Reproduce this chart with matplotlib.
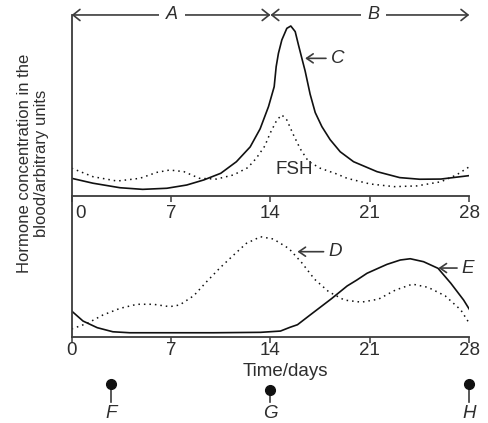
import matplotlib.pyplot as plt

# skrift som ligner på Arial/Helvetica
plt.rcParams['font.family'] = ['Liberation Sans', 'DejaVu Sans']

# dager på x-aksen
dag_ticks = [0, 7, 14, 21, 28]

# C (LH), øverste panel
dager_c = [0, 1.5, 3.4, 5, 6.7, 8.1, 9.3, 10.5, 11.6, 12.57,
           13.27, 13.86, 14.26, 14.4, 14.56, 14.8, 15.15, 15.43, 15.74, 15.97,
           16.21, 16.44, 16.79, 17.15, 17.62, 18.2, 18.91, 19.85, 21.5,
           23.1, 24.5, 26, 28]
verdi_c = [0.96, 0.69, 0.44, 0.35, 0.41, 0.59, 0.87, 1.24, 1.88, 2.7,
           3.7, 4.93, 6.03, 7.14, 7.88, 8.62, 9.26, 9.39, 9.08, 8.34,
           7.60, 6.9, 5.62, 4.6, 3.82, 3.1, 2.43, 1.88, 1.33,
           1.00, 0.91, 0.92, 1.11]

# FSH, øverste panel
dager_fsh = [0, 1.5, 3.2, 4.8, 6, 6.9, 7.9, 9, 10.2, 11.4,
             12.4, 13, 13.6, 13.97, 14.45, 14.8, 15.15, 15.62, 16.09, 16.67,
             17.5, 18.67, 19.4, 21, 22.7, 24.3, 26, 27.1, 28]
verdi_fsh = [1.52, 1.05, 0.81, 0.96, 1.29, 1.42, 1.33, 0.96, 0.92, 1.15,
             1.55, 2.07, 2.75, 3.45, 4.19, 4.47, 4.19, 3.36, 2.6, 1.9,
             1.52, 1.2, 0.96, 0.65, 0.5, 0.54, 0.77, 1.15, 1.6]

# D (stiplet), nederste panel
dager_d = [0, 1.1, 2.2, 3.4, 4.6, 5.75, 6.9, 7.6, 8.6, 9.5,
           10.45, 11.4, 12.3, 13.3, 14.2, 15.3, 16.2, 17.1, 18.1, 19.2,
           20.4, 21.6, 22.8, 24, 25.1, 26.3, 27.4, 28]
verdi_d = [0.55, 0.95, 1.54, 2.01, 2.30, 2.30, 2.13, 2.25, 2.91, 3.90,
           4.89, 5.79, 6.62, 7.09, 6.93, 6.25, 5.25, 4.08, 3.19, 2.6,
           2.45, 2.66, 3.31, 3.73, 3.5, 2.9, 1.9, 0.95]

# E (heltrukket), nederste panel
dager_e = [0, 0.8, 1.8, 2.9, 4.1, 7, 10, 13.3, 14.7, 15.38,
           15.9, 16.79, 18.3, 19.4, 20.08, 20.8, 21.73, 22.2, 23.14, 23.84,
           24.78, 25.8, 26.7, 27.6, 28]
verdi_e = [1.82, 1.11, 0.64, 0.35, 0.28, 0.28, 0.28, 0.31, 0.40, 0.67,
           0.85, 1.54, 2.7, 3.6, 4.02, 4.5, 4.92, 5.13, 5.44, 5.53,
           5.32, 4.85, 3.79, 2.6, 1.95]

# punktene F, G, H under aksen
merke_dager = [2.8, 14, 28]
merke_navn = ['F', 'G', 'H']

# farger
strek = '#3c3c3c'
kurve = '#111111'
tekst = '#2e2e2e'
prikket = (0, (1, 2.6))

fig = plt.figure(figsize=(4.89, 4.23), dpi=100)
ax1 = fig.add_axes([0.1466, 0.5374, 0.8131, 0.4272])
ax2 = fig.add_axes([0.1466, 0.2040, 0.8131, 0.3333])
ax3 = fig.add_axes([0.1466, 0.0, 0.8131, 0.1135])

# felles utseende for de to panelene
for ax in [ax1, ax2]:
    ax.patch.set_alpha(0)
    ax.set_xlim(0, 28)
    ax.set_ylim(0, 10)
    ax.spines['top'].set_visible(False)
    ax.spines['right'].set_visible(False)
    ax.spines['left'].set_color(strek)
    ax.spines['bottom'].set_color(strek)
    ax.spines['left'].set_linewidth(1.3)
    ax.spines['bottom'].set_linewidth(1.3)
    ax.set_yticks([])
    ax.set_xticks(dag_ticks)
    ax.tick_params(axis='x', direction='out', length=4.5, width=1.1,
                   color=strek, labelsize=13.5, labelcolor=tekst)

# øverste panel: 0 står litt til høyre
ax1.set_xticklabels([''] + [str(d) for d in dag_ticks[1:]])
ax1.tick_params(axis='x', pad=2.2)
ax1.annotate('0', xy=(0, 0), xytext=(6.7, -6.7), textcoords='offset points',
             ha='center', va='top', fontsize=13.5, color=tekst)
ax2.tick_params(axis='x', pad=-0.9)

# kurvene
ax1.plot(dager_c, verdi_c, color=kurve, lw=1.2)
ax1.plot(dager_fsh, verdi_fsh, color=kurve, lw=1.1, linestyle=prikket)
ax2.plot(dager_d, verdi_d, color=kurve, lw=1.1, linestyle=prikket)
ax2.plot(dager_e, verdi_e, color=kurve, lw=1.2)

ax1.text(15.65, 1.47, 'FSH', ha='center', va='center', fontsize=13.5, color=tekst)

# pilene A og B over grafen
pil = dict(arrowstyle='<->,head_length=0.5,head_width=0.4', color=strek, lw=1.2,
           shrinkA=0, shrinkB=0, mutation_scale=10)
ax1.annotate('', xy=(0, 10), xytext=(14, 10), arrowprops=pil, annotation_clip=False)
ax1.annotate('', xy=(14, 10), xytext=(28, 10), arrowprops=pil, annotation_clip=False)
boks = dict(facecolor='white', edgecolor='none', pad=5)
ax1.text(7.07, 10, 'A', style='italic', ha='center', va='center', fontsize=13,
         color=tekst, bbox=boks, clip_on=False)
ax1.text(21.26, 10, 'B', style='italic', ha='center', va='center', fontsize=13,
         color=tekst, bbox=boks, clip_on=False)

# små piler til C, D og E
liten_pil = dict(arrowstyle='->,head_length=0.35,head_width=0.24', color=strek,
                 lw=1.2, shrinkA=1.5, shrinkB=0)
ax1.annotate('C', xy=(16.44, 7.6), xytext=(18.25, 7.6), ha='left', va='center',
             style='italic', fontsize=13.5, color=tekst, arrowprops=liten_pil)
ax2.annotate('D', xy=(15.9, 6.03), xytext=(18.08, 6.03), ha='left', va='center',
             style='italic', fontsize=13.5, color=tekst, arrowprops=liten_pil)
ax2.annotate('E', xy=(25.83, 4.87), xytext=(27.48, 4.87), ha='left', va='center',
             style='italic', fontsize=13.5, color=tekst, arrowprops=liten_pil,
             annotation_clip=False)

# tekst på aksene
fig.text(285.2 / 489, 1 - 371.7 / 423, 'Time/days', ha='center', va='center',
         fontsize=13.5, color=tekst)
fig.text(33 / 489, 1 - 163 / 423, 'Hormone concentration in the\nblood/arbitrary units',
         rotation=90, ha='center', va='center', multialignment='center',
         fontsize=12, color=tekst)

# F, G og H med nål og prikk
ax3.set_xlim(0, 28)
ax3.set_ylim(48, 0)
ax3.axis('off')
prikk_hoyde = [9, 15, 9]
for dag, navn, h in zip(merke_dager, merke_navn, prikk_hoyde):
    ax3.plot([dag, dag], [h, 27], color=strek, lw=1.2, clip_on=False)
    ax3.plot(dag, h, 'o', color=kurve, ms=7, clip_on=False)
    ax3.text(dag, 39, navn, ha='center', va='center', style='italic',
             fontsize=13.5, color=tekst, clip_on=False)

plt.savefig('out.png', dpi=100)
